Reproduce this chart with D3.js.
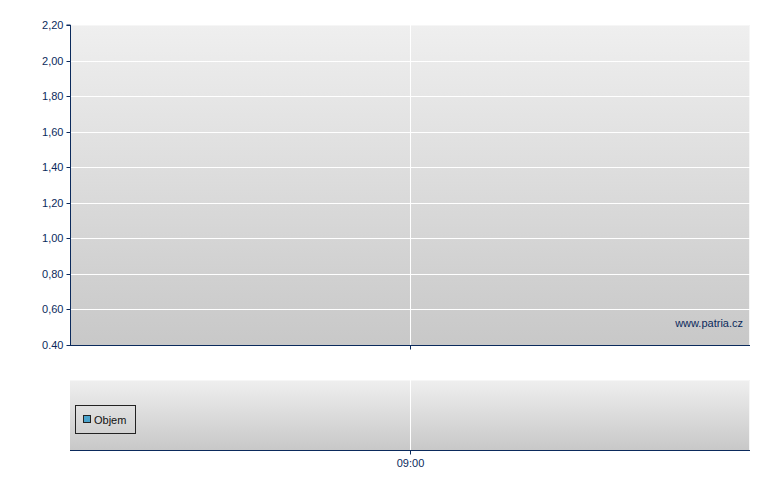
<!DOCTYPE html>
<html><head><meta charset="utf-8">
<script src="https://cdn.jsdelivr.net/npm/d3@7"></script>
<style>body{margin:0;background:#fff}svg{display:block}text{font-family:"Liberation Sans",Arial,sans-serif}</style>
</head><body><svg id="c" width="780" height="490"></svg>
<script>
const yTicks = [0.40, 0.60, 0.80, 1.00, 1.20, 1.40, 1.60, 1.80, 2.00, 2.20];
const yTickLabels = ["0.40", "0,60", "0,80", "1,00", "1,20", "1,40", "1,60", "1,80", "2,00", "2,20"];
const xTicks = ["09:00"];
const seriesNames = ["Objem"];
const seriesColors = ["#4aa3cc"];
const watermark = "www.patria.cz";

const svg = d3.select("#c");
const navy = "#0b2a5c";
const L = 70, R = 750;
const top1 = 25, bot1 = 345, top2 = 380, bot2 = 450;

const defs = svg.append("defs");
const g = defs.append("linearGradient").attr("id","bg").attr("x1",0).attr("y1",0).attr("x2",0).attr("y2",1);
g.append("stop").attr("offset","0%").attr("stop-color","#efefef");
g.append("stop").attr("offset","100%").attr("stop-color","#c8c8c8");

const y = d3.scaleLinear().domain([0.40, 2.20]).range([bot1, top1]);
const x = d3.scalePoint().domain(xTicks).range([L, R]).padding(0.5);

svg.append("rect").attr("x",L).attr("y",top1).attr("width",R-L).attr("height",bot1-top1).attr("fill","url(#bg)");
svg.append("rect").attr("x",L).attr("y",top2).attr("width",R-L).attr("height",bot2-top2).attr("fill","url(#bg)");
svg.append("path").attr("d",`M${L},${top1+0.5}H${R-0.5}V${bot1}`).attr("fill","none").attr("stroke","#f6f6f6");
svg.append("path").attr("d",`M${L},${top2+0.5}H${R-0.5}V${bot2}`).attr("fill","none").attr("stroke","#f6f6f6");

svg.append("g").selectAll("line").data(yTicks.slice(1,-1)).join("line")
  .attr("x1",L).attr("x2",R).attr("y1",d=>Math.round(y(d))+0.5).attr("y2",d=>Math.round(y(d))+0.5)
  .attr("stroke","#ffffff").attr("stroke-width",1);
xTicks.forEach(t=>{
  const xx = Math.round(x(t))+0.5;
  svg.append("line").attr("x1",xx).attr("x2",xx).attr("y1",top1).attr("y2",bot1).attr("stroke","#fff");
  svg.append("line").attr("x1",xx).attr("x2",xx).attr("y1",top2).attr("y2",bot2).attr("stroke","#fff");
});

const yAxis = d3.axisLeft(y).tickValues(yTicks).tickSize(4).tickPadding(3)
  .tickFormat((d,i)=>yTickLabels[i]);
const ya = svg.append("g").attr("transform",`translate(${L+0.5},0)`).call(yAxis);
ya.select(".domain").attr("stroke",navy).attr("d",`M-4,${top1}H0V${bot1}`);
ya.selectAll(".tick line").attr("stroke",navy);
ya.selectAll(".tick text").attr("fill",navy).style("font-size","11px");
ya.selectAll(".tick").attr("transform",d=>`translate(0,${Math.round(y(d))+0.5})`);

const xa1 = svg.append("g").attr("transform",`translate(0,${bot1+0.5})`).call(d3.axisBottom(x).tickSize(4).tickFormat(""));
xa1.select(".domain").attr("stroke",navy).attr("d",`M${L},0H${R}`);
xa1.selectAll(".tick line").attr("stroke",navy);

const xa2 = svg.append("g").attr("transform",`translate(0,${bot2+0.5})`).call(d3.axisBottom(x).tickSize(4).tickPadding(5));
xa2.select(".domain").attr("stroke",navy).attr("d",`M${L},0H${R}`);
xa2.selectAll(".tick line").attr("stroke",navy);
xa2.selectAll(".tick text").attr("fill",navy).style("font-size","11px");

svg.append("text").attr("x",R-7).attr("y",bot1-18).attr("text-anchor","end")
  .attr("fill",navy).style("font-size","11px").text(watermark);

const lg = svg.append("g");
lg.append("rect").attr("x",75.5).attr("y",405.5).attr("width",60).attr("height",28).attr("fill","none").attr("stroke","#222");
seriesNames.forEach((n,i)=>{
  lg.append("rect").attr("x",83.5).attr("y",415.5).attr("width",7).attr("height",7).attr("fill",seriesColors[i]).attr("stroke","#222");
  lg.append("text").attr("x",94).attr("y",423.5).attr("fill","#111").style("font-size","11px").text(n);
});
</script></body></html>
